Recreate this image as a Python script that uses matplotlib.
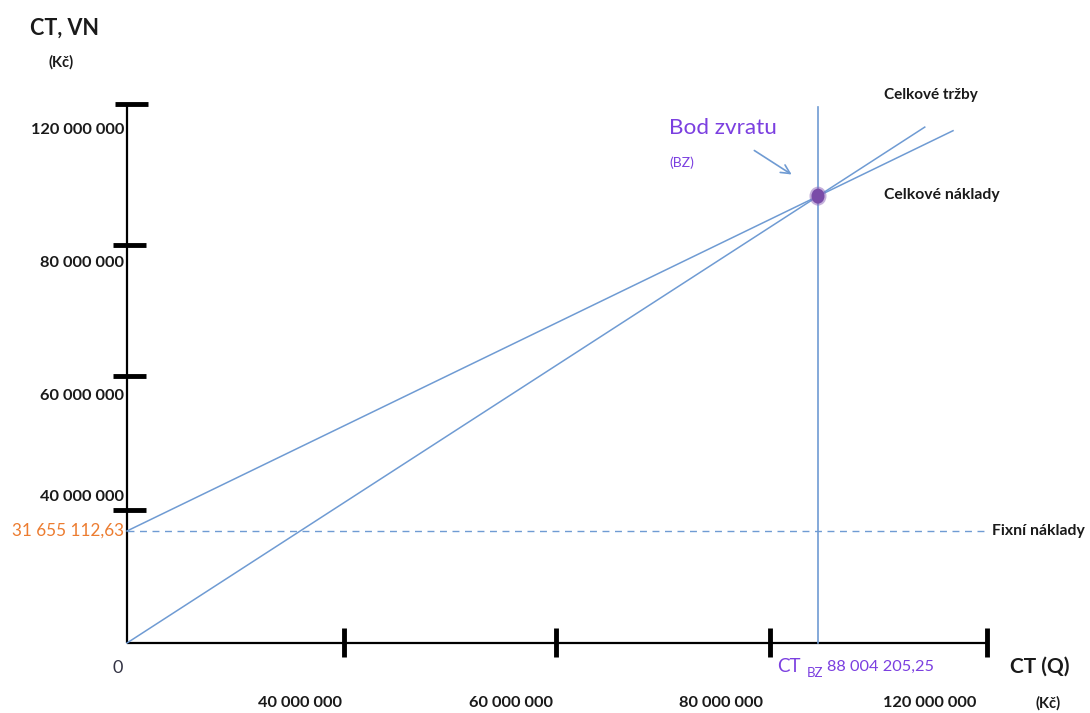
import matplotlib.pyplot as plt
from matplotlib.patches import Ellipse

plt.rcParams['font.family'] = ['Lato', 'DejaVu Sans']

# hodnoty bodu zvratu (Kč)
fixni_naklady = 31_655_112.63
ct_bz = 88_004_205.25
bz_vyska = 126_300_000          # výška bodu zvratu ve schématu
konec_trzby = 101_600_000       # kde končí přímka tržeb
konec_naklady = 105_200_000     # kde končí přímka nákladů

# značky na osách (schéma, ne v měřítku)
x_znacky = [27_600_000, 54_600_000, 81_900_000, 109_500_000]
y_znacky = [37_600_000, 75_500_000, 112_500_000, 152_300_000]
x_popisky = ['40 000 000', '60 000 000', '80 000 000', '120 000 000']
y_popisky = ['40 000 000', '60 000 000', '80 000 000', '120 000 000']

W, H = 1090, 713
ox, oy = 127, 643
sx = ct_bz / (818 - ox)
sy = fixni_naklady / (oy - 531)

fig = plt.figure(figsize=(W / 100, H / 100), dpi=100)
ax = fig.add_axes([0, 0, 1, 1])
ax.set_xlim(-ox * sx, (W - ox) * sx)
ax.set_ylim(-(H - oy) * sy, oy * sy)
ax.axis('off')

def px(x, y):
    # pozice v pixelech obrázku -> souřadnice os
    return (x - ox) * sx, (oy - y) * sy

modra = '#6f9bd3'
fialova = '#7b3fe0'

# osy
ax.plot([0, 0], [0, y_znacky[-1]], color='black', lw=1.6, solid_capstyle='butt')
ax.plot([0, x_znacky[-1]], [0, 0], color='black', lw=1.6, solid_capstyle='butt')
for i, yv in enumerate(y_znacky):
    l = 12 if i == len(y_znacky) - 1 else 14
    ax.plot([-l * sx, (33 - l) * sx], [yv, yv], color='black', lw=3.5, solid_capstyle='butt')
for xv in x_znacky:
    ax.plot([xv, xv], [-14 * sy, 15 * sy], color='black', lw=3.5, solid_capstyle='butt')

# přímky
k_t = bz_vyska / ct_bz
ax.plot([0, konec_trzby], [0, k_t * konec_trzby], color=modra, lw=1.1)
k_n = (bz_vyska - fixni_naklady) / ct_bz
ax.plot([0, konec_naklady], [fixni_naklady, fixni_naklady + k_n * konec_naklady], color=modra, lw=1.1)
ax.plot([0, x_znacky[-1]], [fixni_naklady, fixni_naklady], color=modra, lw=1.0, ls=(0, (5, 4)))
ax.plot([ct_bz, ct_bz], [0, px(0, 107)[1]], color=modra, lw=1.2)

# bod zvratu
ax.add_patch(Ellipse((ct_bz, bz_vyska), 17 * sx, 19 * sy, color='#8a63b8', alpha=0.5, lw=0, zorder=5))
ax.add_patch(Ellipse((ct_bz, bz_vyska), 13 * sx, 15 * sy, color='#7a4ca8', lw=0, zorder=6))

ax.annotate('', xy=px(794, 176), xytext=px(752, 149),
            arrowprops=dict(arrowstyle='->', color=modra, lw=1.2, mutation_scale=16))

# popisky
cerna = '#1a1a1a'
for yv, t, y in zip(y_znacky, y_popisky, [497, 396, 263, 130]):
    ax.text(*px(124, y), t, ha='right', va='center', fontsize=11.8, fontweight='bold', color=cerna)
for t, x in zip(x_popisky, [300, 511, 721, 930]):
    ax.text(*px(x, 703), t, ha='center', va='center', fontsize=11.8, fontweight='bold', color=cerna)

ax.text(*px(30, 28), 'CT, VN', ha='left', va='center', fontsize=15.5, fontweight='bold', color=cerna)
ax.text(*px(49, 62), '(Kč)', ha='left', va='center', fontsize=10.5, fontweight='bold', color=cerna)
ax.text(*px(1036, 703), '(Kč)', ha='left', va='center', fontsize=10.5, fontweight='bold', color=cerna)
ax.text(*px(1010, 667), 'CT (Q)', ha='left', va='center', fontsize=15, fontweight='bold', color=cerna)
ax.text(*px(118, 668), '0', ha='center', va='center', fontsize=13, color='#333344')
ax.text(*px(124, 531), '31 655 112,63', ha='right', va='center', fontsize=12.3, color='#ec7c30')

ax.text(*px(992, 531), 'Fixní náklady', ha='left', va='center', fontsize=11.3, fontweight='bold', color=cerna)
ax.text(*px(884, 95), 'Celkové tržby', ha='left', va='center', fontsize=11, fontweight='bold', color=cerna)
ax.text(*px(884, 195), 'Celkové náklady', ha='left', va='center', fontsize=11.3, fontweight='bold', color=cerna)

ax.text(*px(669, 128), 'Bod zvratu', ha='left', va='center', fontsize=16.2, color=fialova)
ax.text(*px(669, 163), '(BZ)', ha='left', va='center', fontsize=10, color=fialova)
ax.text(*px(777, 667), 'CT', ha='left', va='center', fontsize=13.5, color=fialova)
ax.text(*px(807, 673), 'BZ', ha='left', va='center', fontsize=9.5, color=fialova)
ax.text(*px(827, 667), '88 004 205,25', ha='left', va='center', fontsize=11.8, color=fialova)

fig.savefig('out.png', dpi=100, facecolor='white')
